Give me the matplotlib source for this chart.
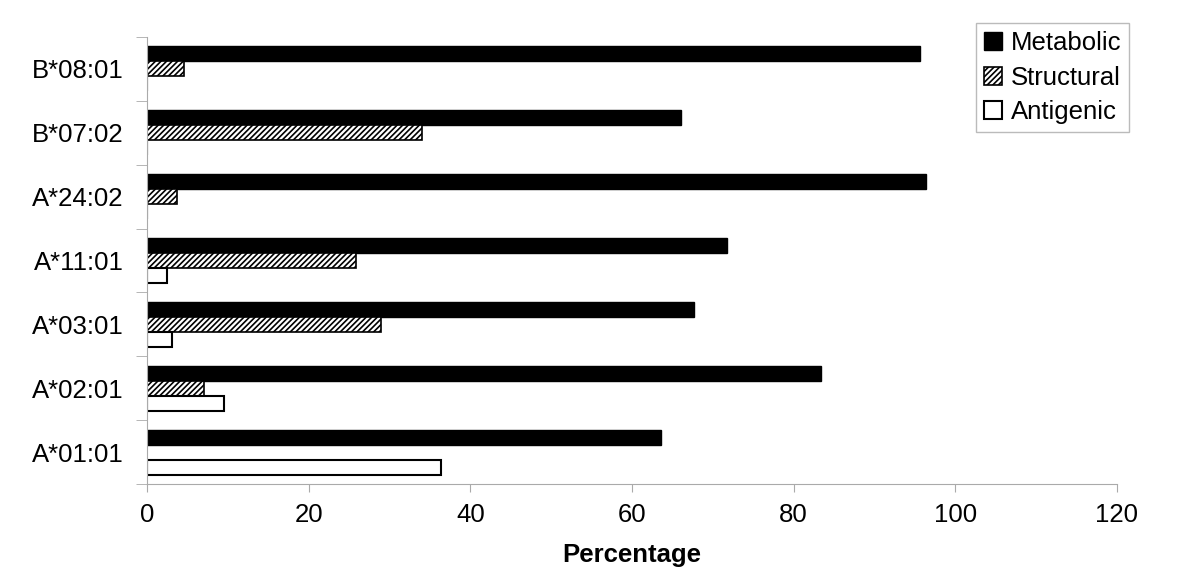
import numpy as np
import matplotlib
matplotlib.use('Agg')
from matplotlib import pyplot as plt

plt.rcParams['font.family'] = ['Liberation Sans', 'DejaVu Sans']
plt.rcParams['hatch.linewidth'] = 1.2

# data (bottom to top)
alleles = ['A*01:01', 'A*02:01', 'A*03:01', 'A*11:01', 'A*24:02', 'B*07:02', 'B*08:01']
metabolic = [63.6, 83.4, 67.7, 71.8, 96.4, 66.1, 95.6]
structural = [0, 7.1, 29.0, 25.9, 3.7, 34.0, 4.6]
antigenic = [36.4, 9.5, 3.1, 2.5, 0, 0, 0]

fig = plt.figure(figsize=(12, 5.85), dpi=100)
ax = fig.add_axes([0.1225, 0.1726, 0.8083, 0.7642])

y = np.arange(len(alleles))
h = 0.235
ax.barh(y + h, metabolic, h, color='black', edgecolor='black', lw=1, label='Metabolic')
ax.barh(y, structural, h, color='white', edgecolor='black', lw=1.2, hatch='//////', label='Structural')
ax.barh(y - h, antigenic, h, color='white', edgecolor='black', lw=1.5, label='Antigenic')

ax.set_xlim(0, 120)
ax.set_ylim(-0.5, len(alleles) - 0.5)
ax.set_xticks(range(0, 121, 20))
ax.set_yticks(y)
ax.set_yticklabels(alleles)
ax.set_yticks(np.arange(-0.5, len(alleles), 1), minor=True)
ax.tick_params(axis='y', which='major', length=0, pad=17, labelsize=18.5)
ax.tick_params(axis='y', which='minor', length=8, color='#aaaaaa')
ax.tick_params(axis='x', length=6, color='#aaaaaa', labelsize=18.5, pad=8)
for s in ['top', 'right']:
    ax.spines[s].set_visible(False)
for s in ['left', 'bottom']:
    ax.spines[s].set_color('#aaaaaa')
ax.set_xlabel('Percentage', fontsize=18.5, fontweight='bold', labelpad=11)

leg = fig.legend(loc='upper right', bbox_to_anchor=(1129 / 1200, 1 - 23 / 585),
                 fontsize=18.5, frameon=True, fancybox=False, handlelength=0.7,
                 handleheight=0.7, handletextpad=0.35, borderaxespad=0,
                 labelspacing=0.42, borderpad=0.3)
leg.get_frame().set_edgecolor('#aaaaaa')
leg.get_frame().set_linewidth(1)

fig.savefig('out.png', dpi=100)
